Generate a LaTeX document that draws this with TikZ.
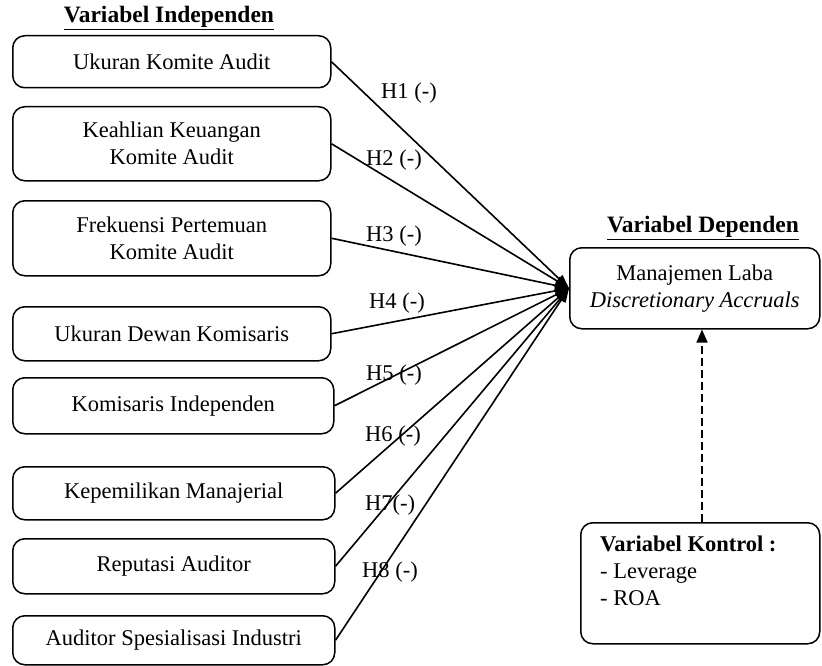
\documentclass[tikz,border=0pt]{standalone}
\usepackage{fontspec}
\setmainfont{Liberation Serif}
\usetikzlibrary{arrows.meta}
\begin{document}
\begin{tikzpicture}[x=1pt,y=-1pt,
  box/.style={draw, rounded corners=12pt, line width=1.5pt, anchor=north west, align=center, inner sep=0pt},
  conn/.style={line width=1.6pt, -{Triangle[length=14pt,width=10pt]}},
  hlab/.style={anchor=west, inner sep=0pt},
  ttl/.style={inner sep=0pt, font=\fontsize{23.5}{28}\selectfont},
  every node/.append style={font=\fontsize{22.5}{27}\selectfont}]
\useasboundingbox (0,0) rectangle (822,666);
\node[ttl] (ti) at (169,18) {\underline{\textbf{Variabel Independen}}};
\node[box, minimum width=318pt, minimum height=52pt] (b1) at (12,35) {Ukuran Komite Audit};
\node[box, minimum width=318pt, minimum height=74pt] (b2) at (12,106) {Keahlian Keuangan\\Komite Audit};
\node[box, minimum width=318pt, minimum height=75pt] (b3) at (12,200) {Frekuensi Pertemuan\\Komite Audit};
\node[box, minimum width=318pt, minimum height=54pt] (b4) at (12,306) {Ukuran Dewan Komisaris};
\node[box, minimum width=321pt, minimum height=56pt] (b5) at (12,377) {Komisaris Independen};
\node[box, minimum width=322pt, minimum height=53pt] (b6) at (12,466) {Kepemilikan Manajerial};
\node[box, minimum width=322pt, minimum height=55pt] (b7) at (12,538) {Reputasi Auditor};
\node[box, minimum width=322pt, minimum height=49pt] (b8) at (12,615) {Auditor Spesialisasi Industri};

\node[ttl] (td) at (703,228) {\underline{\textbf{Variabel Dependen}}};
\node[box, minimum width=250pt, minimum height=81pt] (dep) at (569,247) {Manajemen Laba\\\textit{Discretionary Accruals}};

\node[box, minimum width=239pt, minimum height=121pt] (ctrl) at (580,522) {};
\node[anchor=north west, align=left, inner sep=0pt] (ctxt) at (600,536) {\textbf{Variabel Kontrol :}\\- Leverage\\- ROA};

\foreach \b in {b1,b2,b3,b4,b5,b6,b7,b8} \draw[conn] (\b.east) -- (dep.west);

\node[hlab] (h1) at (381,93) {H1 (-)};
\node[hlab] (h2) at (366,160) {H2 (-)};
\node[hlab] (h3) at (366,236) {H3 (-)};
\node[hlab] (h4) at (369,303) {H4 (-)};
\node[hlab] (h5) at (366,375) {H5 (-)};
\node[hlab] (h6) at (365,436) {H6 (-)};
\node[hlab] (h7) at (365,505) {H7(-)};
\node[hlab] (h8) at (362,572) {H8 (-)};

\draw[line width=1.6pt, dash pattern=on 8pt off 4pt, -{Triangle[length=13pt,width=11pt]}] (ctrl.north -| 702,0) -- (dep.south -| 702,0);
\end{tikzpicture}
\end{document}
